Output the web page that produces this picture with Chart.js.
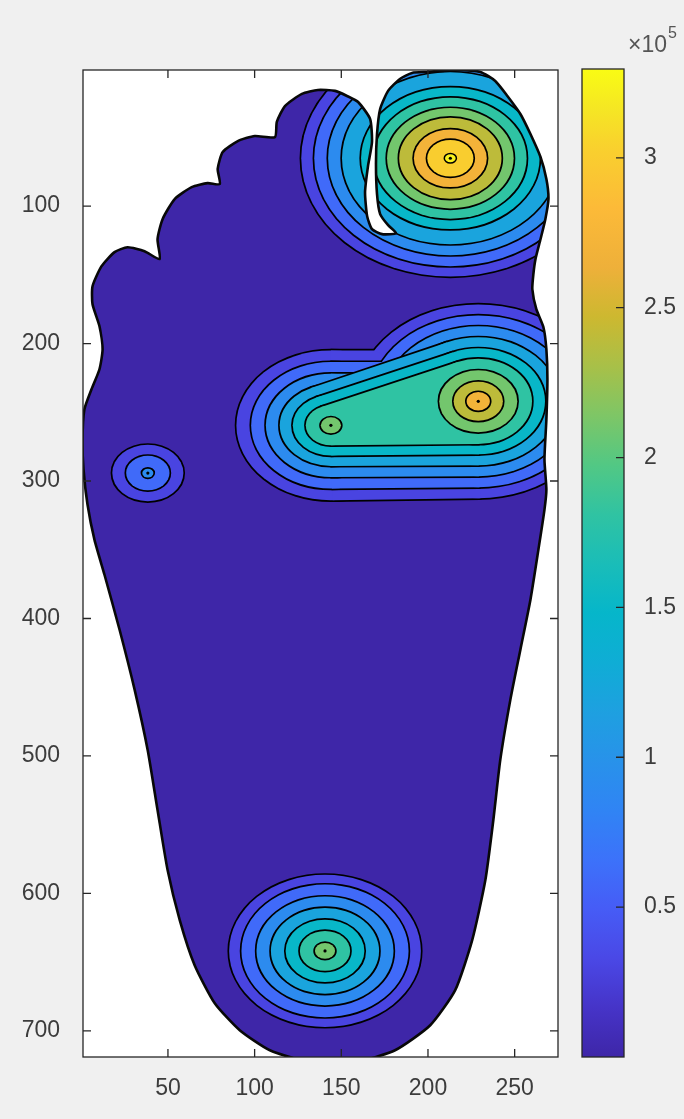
<!DOCTYPE html>
<html>
<head>
<meta charset="utf-8">
<title>Foot pressure contour</title>
<script src="https://cdn.jsdelivr.net/npm/chart.js@4.4.1/dist/chart.umd.min.js"></script>
<style>
  body { margin: 0; background: #f0f0f0; }
  canvas { display: block; }
</style>
</head>
<body>
<canvas id="foot-chart" width="684" height="1119"></canvas>
<script>
// Axis ticks
const xTicks = [50, 100, 150, 200, 250];
const yTicks = [100, 200, 300, 400, 500, 600, 700];
const cbTicks = [50000, 100000, 150000, 200000, 250000, 300000];

// Colour range and contour levels (pressure)
const cMin = 0;
const cMax = 329300;
const levels = [30000, 60000, 90000, 120000, 150000, 180000, 210000, 240000, 270000, 300000];

// Foot outline (image pixel coords, x = column, y = row)
const footX = [199.5, 215.7, 230.2, 238.8, 245.8, 253.3, 259.1, 264.9, 268.3, 269.5,
  267.7, 264.9, 262.0, 260.8, 260.2, 262.5, 266.6, 268.3, 268.9, 268.3,
  267.2, 268.3, 267.2, 263.7, 259.1, 253.3, 247.5, 241.7, 237.7, 233.1,
  225.5, 215.7, 201.3, 181.0, 157.9, 131.9, 108.8, 91.4, 77.0, 65.4,
  56.8, 49.8, 44.0, 38.3, 30.8, 22.1, 13.4, 7.6, 3.6, 1.3,
  0.7, 1.8, 5.9, 10.5, 12.3, 10.5, 6.5, 6.5, 11.7, 19.2,
  26.7, 36.5, 45.2, 44.0, 46.9, 53.9, 63.7, 72.9, 79.9, 78.7,
  81.6, 90.3, 100.1, 111.7, 112.8, 117.5, 127.3, 136.5, 146.4, 153.3,
  159.7, 166.6, 167.7, 165.4, 163.7, 164.9, 167.7, 173.5, 181.6, 177.0,
  172.4, 170.6, 170.0, 170.6, 172.4, 177.0, 183.8, 190.8];
const footY = [2.4, 0.9, 2.4, 9.0, 19.9, 33.0, 47.6, 64.3, 80.3, 94.9,
  109.5, 124.1, 138.6, 149.5, 160.5, 175.0, 188.1, 204.2, 226.0, 255.2,
  284.3, 306.2, 320.8, 349.9, 386.3, 422.7, 459.2, 502.9, 546.6, 590.3,
  634.0, 670.4, 695.9, 714.1, 722.8, 722.8, 714.1, 699.5, 679.9, 652.2,
  619.4, 583.0, 539.3, 495.6, 451.9, 408.2, 368.2, 342.6, 317.1, 291.6,
  269.7, 247.9, 233.3, 218.7, 204.2, 187.4, 171.4, 158.3, 143.7, 133.5,
  129.9, 132.8, 138.6, 124.0, 109.5, 94.9, 86.2, 83.3, 84.0, 73.0,
  60.7, 52.7, 49.0, 49.8, 38.8, 27.2, 18.4, 15.5, 16.2, 19.9,
  24.3, 36.6, 53.4, 70.9, 89.8, 107.3, 116.8, 120.4, 119.7, 113.9,
  105.8, 91.3, 69.4, 47.6, 29.4, 16.2, 7.5, 3.1];

// Contour radius of each level around each pressure peak (0 = level not reached)
const bigToeCenter = [212.9, 65.2];
const bigToeR = [86, 78.5, 70.5, 62.5, 51.5, 44, 36.5, 29.5, 21, 13.3];
const ballLeftCenter = [144, 259.5];
const ballLeftR = [54.5, 46, 37.5, 29.5, 22, 14.5, 5.8, 0, 0, 0];
const ballRightCenter = [229, 242];
const ballRightR = [70.5, 62.5, 54.5, 46.5, 38.5, 31, 22.5, 14.2, 6.7, 0];
// how the two ball rings merge: 1 = flat top step, 2 = tangent band, 0 = separate
const ballJoined = [1, 1, 1, 2, 2, 2, 0, 0, 0, 0];
const heelCenter = [140.6, 641.8];
const heelR = [55.3, 48.2, 39.5, 31.2, 22.7, 14.5, 5.8, 0, 0, 0];
const lateralCenter = [38.4, 294.2];
const lateralR = [20.5, 12.5, 3.2, 0, 0, 0, 0, 0, 0, 0];

// Peak markers
const peakX = [212.9, 144, 229, 140.6, 38.4];
const peakY = [65.2, 259.5, 242, 641.8, 294.2];
const peakRingR = [3.5, 0, 0, 0, 0];

// parula colormap stops
const parulaStops = [
  [0.00, [62, 38, 168]], [0.05, [70, 52, 200]], [0.10, [74, 72, 230]],
  [0.15, [70, 92, 246]], [0.20, [60, 114, 250]], [0.25, [48, 132, 244]],
  [0.30, [40, 146, 234]], [0.35, [30, 160, 224]], [0.40, [15, 173, 213]],
  [0.45, [6, 182, 202]], [0.50, [26, 189, 184]], [0.55, [48, 195, 162]],
  [0.60, [82, 200, 132]], [0.65, [126, 198, 102]], [0.70, [168, 192, 72]],
  [0.75, [205, 184, 48]], [0.80, [238, 176, 58]], [0.86, [252, 186, 56]],
  [0.92, [249, 208, 46]], [0.96, [245, 230, 36]], [1.00, [249, 251, 20]]
];

const spots = [
  { centers: [bigToeCenter], radii: [bigToeR] },
  { centers: [ballLeftCenter, ballRightCenter], radii: [ballLeftR, ballRightR], joined: ballJoined },
  { centers: [heelCenter], radii: [heelR] },
  { centers: [lateralCenter], radii: [lateralR] }
];

const labelFont = { family: "'Liberation Sans', Arial, sans-serif", size: 23 };
const labelColor = '#3c3c3c';
const axisColor = '#262626';

function parula(t) {
  t = Math.min(1, Math.max(0, t));
  for (let i = 1; i < parulaStops.length; i++) {
    const [t1, c1] = parulaStops[i];
    if (t <= t1) {
      const [t0, c0] = parulaStops[i - 1];
      const f = (t - t0) / (t1 - t0);
      const c = c0.map((v, j) => Math.round(v + (c1[j] - v) * f));
      return `rgb(${c[0]},${c[1]},${c[2]})`;
    }
  }
  return 'rgb(249,251,20)';
}

function levelColor(v) {
  return parula((v - cMin) / (cMax - cMin));
}

// outline path: reuse the line element of the dataset so clip and stroke match
function footPath(chart, ctx) {
  const line = chart.getDatasetMeta(0).dataset;
  ctx.beginPath();
  if (line && typeof line.path === 'function') {
    line.path(ctx);
  } else {
    const xs = chart.scales.x, ys = chart.scales.y;
    footX.forEach((v, i) => {
      const px = xs.getPixelForValue(v), py = ys.getPixelForValue(footY[i]);
      if (i === 0) ctx.moveTo(px, py); else ctx.lineTo(px, py);
    });
  }
  ctx.closePath();
}

function addEllipse(ctx, xs, ys, c, r) {
  const px = xs.getPixelForValue(c[0]);
  const py = ys.getPixelForValue(c[1]);
  const rx = Math.abs(xs.getPixelForValue(c[0] + r) - px);
  const ry = Math.abs(ys.getPixelForValue(c[1] + r) - py);
  ctx.moveTo(px + rx, py);
  ctx.ellipse(px, py, rx, ry, 0, 0, Math.PI * 2);
}

function addPolygon(ctx, xs, ys, pts) {
  pts.forEach((p, i) => {
    const px = xs.getPixelForValue(p[0]);
    const py = ys.getPixelForValue(p[1]);
    if (i === 0) ctx.moveTo(px, py); else ctx.lineTo(px, py);
  });
  ctx.closePath();
}

// band between two rings: outer common tangents; mode 1 keeps the top flat
function bridgePoints(a, b, mode) {
  const dx = b.c[0] - a.c[0];
  const dy = b.c[1] - a.c[1];
  const d = Math.hypot(dx, dy);
  const ux = dx / d, uy = dy / d;
  const k = (a.r - b.r) / d;
  const h = Math.sqrt(Math.max(0, 1 - k * k));
  const n1 = [ux * k - uy * h, uy * k + ux * h];
  const n2 = [ux * k + uy * h, uy * k - ux * h];
  const lowA = [a.c[0] + a.r * n1[0], a.c[1] + a.r * n1[1]];
  const lowB = [b.c[0] + b.r * n1[0], b.c[1] + b.r * n1[1]];
  const upB = [b.c[0] + b.r * n2[0], b.c[1] + b.r * n2[1]];
  const upA = [a.c[0] + a.r * n2[0], a.c[1] + a.r * n2[1]];
  if (lowA[1] < upA[1]) { // make sure "low" is the lower edge (larger y)
    return bridgeOrdered(a, b, mode, upA, upB, lowB, lowA);
  }
  return bridgeOrdered(a, b, mode, lowA, lowB, upB, upA);
}

function bridgeOrdered(a, b, mode, lowA, lowB, upB, upA) {
  if (mode !== 1) return [upA, upB, lowB, lowA];
  const yTop = a.c[1] - a.r;
  const dyc = yTop - b.c[1];
  const xm = Math.abs(dyc) < b.r ? b.c[0] - Math.sqrt(b.r * b.r - dyc * dyc) : b.c[0];
  return [[a.c[0], yTop], [xm, yTop], [b.c[0], b.c[1]], lowB, lowA, [a.c[0], a.c[1]]];
}

// pieces (each drawn as its own path) of one contour level of one spot
function levelPieces(spot, k) {
  const parts = [];
  spot.centers.forEach((c, j) => {
    const r = spot.radii[j][k];
    if (r > 0) parts.push({ c, r });
  });
  const pieces = parts.map(p => (ctx, xs, ys) => addEllipse(ctx, xs, ys, p.c, p.r));
  const mode = spot.joined ? spot.joined[k] : 0;
  if (mode && parts.length === 2) {
    const pts = bridgePoints(parts[0], parts[1], mode);
    pieces.push((ctx, xs, ys) => addPolygon(ctx, xs, ys, pts));
  }
  return pieces;
}

const contourPlugin = {
  id: 'contour',
  beforeDraw(chart) {
    const { ctx, chartArea: a } = chart;
    ctx.save();
    ctx.fillStyle = '#f0f0f0';
    ctx.fillRect(0, 0, chart.width, chart.height);
    ctx.fillStyle = '#ffffff';
    ctx.fillRect(a.left, a.top, a.right - a.left, a.bottom - a.top);
    ctx.restore();
  },
  beforeDatasetsDraw(chart) {
    const { ctx, chartArea: a } = chart;
    const xs = chart.scales.x;
    const ys = chart.scales.y;
    ctx.save();
    ctx.beginPath();
    ctx.rect(a.left, a.top, a.right - a.left, a.bottom - a.top);
    ctx.clip();
    footPath(chart, ctx);
    ctx.fillStyle = levelColor(cMin);
    ctx.fill();
    ctx.clip();

    ctx.lineJoin = 'round';
    levels.forEach((lev, k) => {
      spots.forEach(spot => {
        const pieces = levelPieces(spot, k);
        if (!pieces.length) return;
        // stroke first, then fill: only the outer half of the line stays visible
        ctx.strokeStyle = '#000';
        ctx.lineWidth = 3.4;
        pieces.forEach(p => { ctx.beginPath(); p(ctx, xs, ys); ctx.stroke(); });
        ctx.fillStyle = levelColor(lev);
        pieces.forEach(p => { ctx.beginPath(); p(ctx, xs, ys); ctx.fill(); });
      });
    });

    // peak markers
    peakX.forEach((v, i) => {
      const px = xs.getPixelForValue(v);
      const py = ys.getPixelForValue(peakY[i]);
      if (peakRingR[i] > 0) {
        ctx.beginPath();
        addEllipse(ctx, xs, ys, [v, peakY[i]], peakRingR[i]);
        ctx.fillStyle = parula(0.98);
        ctx.fill();
        ctx.lineWidth = 1.5;
        ctx.strokeStyle = '#000';
        ctx.stroke();
      }
      ctx.beginPath();
      ctx.arc(px, py, 1.6, 0, Math.PI * 2);
      ctx.fillStyle = '#000';
      ctx.fill();
    });
    ctx.restore();
  },
  afterDraw(chart) {
    const { ctx, chartArea: a } = chart;
    const xs = chart.scales.x;
    const ys = chart.scales.y;
    const cb = chart.scales.cb;
    ctx.save();

    // axes box and inward ticks
    ctx.strokeStyle = axisColor;
    ctx.lineWidth = 1.3;
    ctx.strokeRect(a.left, a.top, a.right - a.left, a.bottom - a.top);
    ctx.beginPath();
    xTicks.forEach(v => {
      const px = xs.getPixelForValue(v);
      ctx.moveTo(px, a.bottom); ctx.lineTo(px, a.bottom - 8);
      ctx.moveTo(px, a.top); ctx.lineTo(px, a.top + 8);
    });
    yTicks.forEach(v => {
      const py = ys.getPixelForValue(v);
      ctx.moveTo(a.left, py); ctx.lineTo(a.left + 8, py);
      ctx.moveTo(a.right, py); ctx.lineTo(a.right - 8, py);
    });
    ctx.stroke();

    // colorbar
    const barLeft = cb.left + 24;
    const barW = 42;
    const top = cb.getPixelForValue(cMax);
    const bot = cb.getPixelForValue(cMin);
    const grad = ctx.createLinearGradient(0, bot, 0, top);
    parulaStops.forEach(([t]) => grad.addColorStop(t, parula(t)));
    ctx.fillStyle = grad;
    ctx.fillRect(barLeft, top - 1, barW, bot - top + 1);
    ctx.strokeStyle = axisColor;
    ctx.lineWidth = 1.3;
    ctx.strokeRect(barLeft, top - 1, barW, bot - top + 1);
    ctx.beginPath();
    cbTicks.forEach(v => {
      const py = cb.getPixelForValue(v);
      ctx.moveTo(barLeft + barW, py); ctx.lineTo(barLeft + barW - 8, py);
    });
    ctx.stroke();

    // exponent label
    ctx.fillStyle = '#555';
    ctx.textBaseline = 'alphabetic';
    ctx.textAlign = 'left';
    ctx.font = "23px 'Liberation Sans', Arial, sans-serif";
    const base = '\u00d710';
    ctx.fillText(base, barLeft + 46, top - 18);
    const w = ctx.measureText(base).width;
    ctx.font = "16px 'Liberation Sans', Arial, sans-serif";
    ctx.fillText('5', barLeft + 46 + w + 1, top - 32);
    ctx.restore();
  }
};

function fixSize(s, prop, value) {
  s[prop] = value;
  s.paddingTop = 0;
  s.paddingBottom = 0;
  s.paddingLeft = 0;
  s.paddingRight = 0;
}

const outline = footX.map((v, i) => ({ x: v, y: footY[i] }));
outline.push({ x: footX[0], y: footY[0] });

new Chart(document.getElementById('foot-chart'), {
  type: 'scatter',
  data: {
    datasets: [{
      label: 'foot',
      data: outline,
      showLine: true,
      borderColor: '#080808',
      borderWidth: 2.6,
      pointRadius: 0,
      pointHoverRadius: 0,
      tension: 0.2,
      fill: false,
      clip: 0
    }]
  },
  options: {
    responsive: false,
    animation: false,
    devicePixelRatio: 1,
    events: [],
    layout: { autoPadding: false, padding: { top: 70, left: 0, right: 0, bottom: 0 } },
    plugins: {
      legend: { display: false },
      tooltip: { enabled: false }
    },
    scales: {
      x: {
        type: 'linear',
        min: 1,
        max: 275,
        afterFit: s => fixSize(s, 'height', 62),
        afterBuildTicks: s => { s.ticks = xTicks.map(v => ({ value: v })); },
        grid: { display: false },
        border: { display: false },
        ticks: { font: labelFont, color: labelColor, padding: 10, maxRotation: 0 }
      },
      y: {
        type: 'linear',
        reverse: true,
        min: 1,
        max: 719,
        afterFit: s => fixSize(s, 'width', 83),
        afterBuildTicks: s => { s.ticks = yTicks.map(v => ({ value: v })); },
        grid: { display: false },
        border: { display: false },
        ticks: { font: labelFont, color: labelColor, padding: 15 }
      },
      cb: {
        type: 'linear',
        axis: 'y',
        position: 'right',
        min: cMin,
        max: cMax,
        afterFit: s => fixSize(s, 'width', 126),
        afterBuildTicks: s => { s.ticks = cbTicks.map(v => ({ value: v })); },
        grid: { display: false },
        border: { display: false },
        ticks: { font: labelFont, color: labelColor, padding: 78, callback: v => String(v / 100000) }
      }
    }
  },
  plugins: [contourPlugin]
});
</script>
</body>
</html>
